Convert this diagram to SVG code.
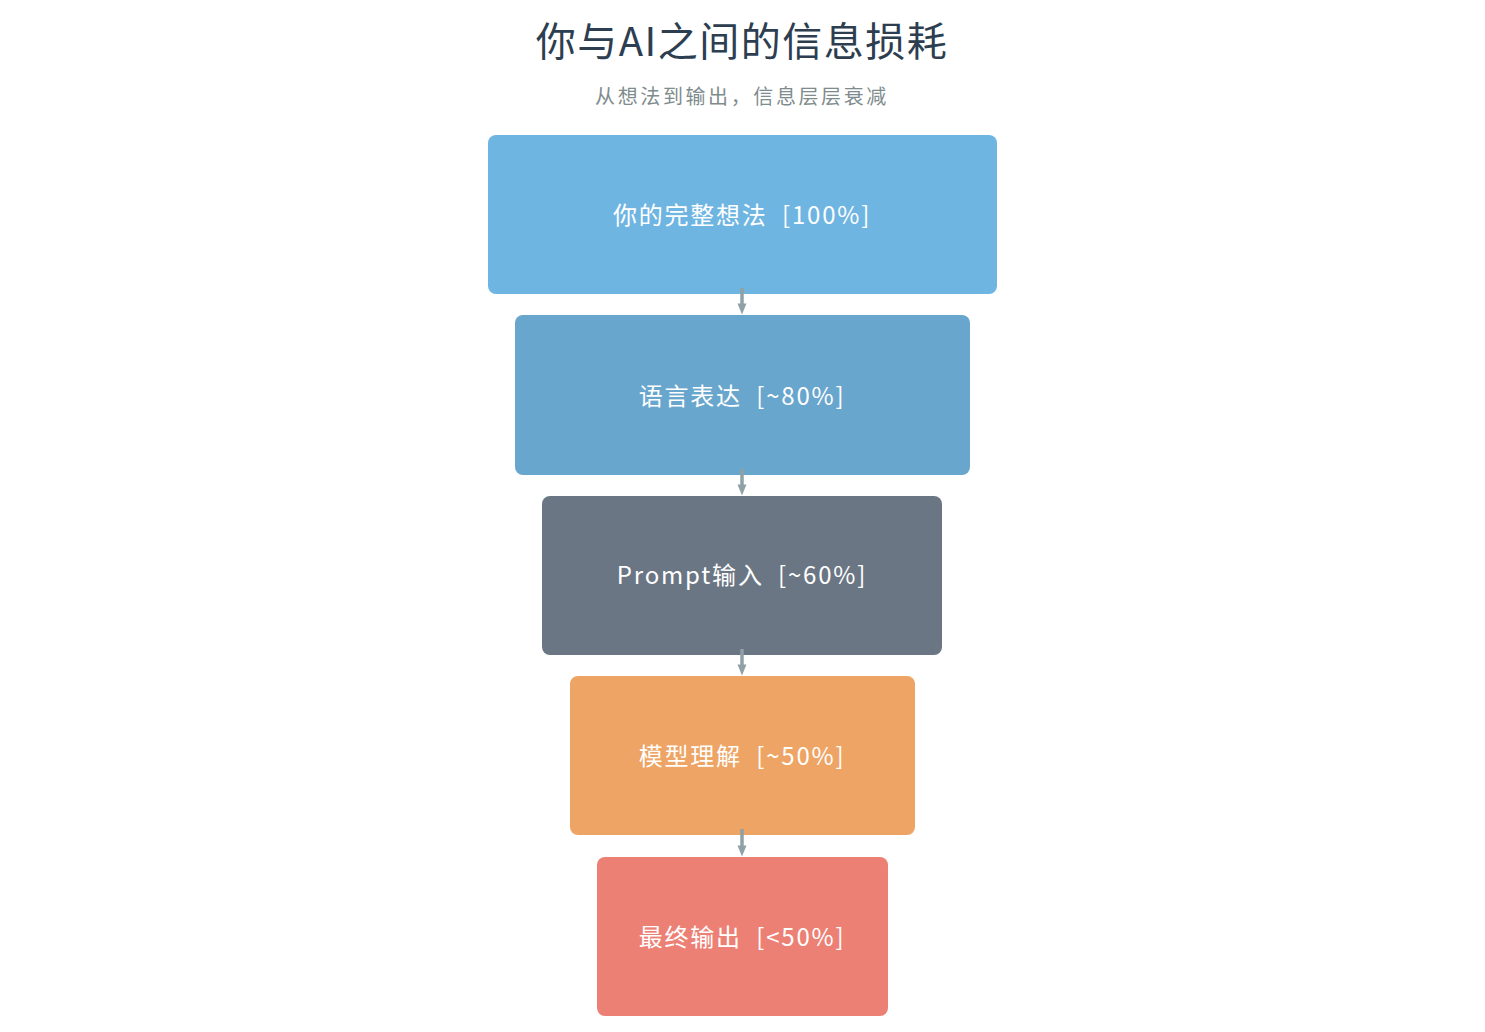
<svg xmlns="http://www.w3.org/2000/svg" width="1485" height="1032" viewBox="0 0 1485 1032">
<defs>
<style>
.t{font-family:"Noto Sans CJK SC","Noto Sans",sans-serif;text-anchor:middle;white-space:pre}
.title{font-size:40px;fill:#2c3e50;letter-spacing:1.5px}
.sub{font-size:20px;fill:#7f8c8d;letter-spacing:2.6px}
.lbl{font-size:24px;fill:#ffffff;letter-spacing:1.8px}
.edge{stroke:#8fa0a6;stroke-width:3.5;fill:none;marker-end:url(#ah)}
</style>
<marker id="ah" viewBox="0 0 10 10" refX="5" refY="5" markerWidth="3.2" markerHeight="3.2" orient="auto" markerUnits="strokeWidth">
<path d="M0,1 L10,5 L0,9 z" fill="#8fa0a6"/>
</marker>
</defs>
<rect width="1485" height="1032" fill="#ffffff"/>
<text class="t title" x="742" y="56" xml:space="preserve">你与AI之间的信息损耗</text>
<text class="t sub" x="742" y="104" xml:space="preserve">从想法到输出，信息层层衰减</text>
<g id="n1"><rect x="488" y="135" width="509" height="159" rx="8" fill="#6fb5e2"/><text class="t lbl" x="742" y="224" xml:space="preserve">你的完整想法  [100%]</text></g>
<g id="n2"><rect x="515" y="315" width="455" height="160" rx="8" fill="#68a6cd"/><text class="t lbl" x="742" y="405" xml:space="preserve">语言表达  [~80%]</text></g>
<g id="n3"><rect x="542" y="496" width="400" height="159" rx="8" fill="#6b7684"/><text class="t lbl" x="742" y="584" xml:space="preserve">Prompt输入  [~60%]</text></g>
<g id="n4"><rect x="570" y="676" width="345" height="159" rx="8" fill="#eea464"/><text class="t lbl" x="742" y="765" xml:space="preserve">模型理解  [~50%]</text></g>
<g id="n5"><rect x="597" y="857" width="291" height="159" rx="8" fill="#ed8075"/><text class="t lbl" x="742" y="946" xml:space="preserve">最终输出  [&lt;50%]</text></g>
<g id="edges">
<line class="edge" x1="742" y1="288" x2="742" y2="309"/>
<line class="edge" x1="742" y1="469" x2="742" y2="490"/>
<line class="edge" x1="742" y1="649" x2="742" y2="670"/>
<line class="edge" x1="742" y1="829" x2="742" y2="851"/>
</g>
</svg>
